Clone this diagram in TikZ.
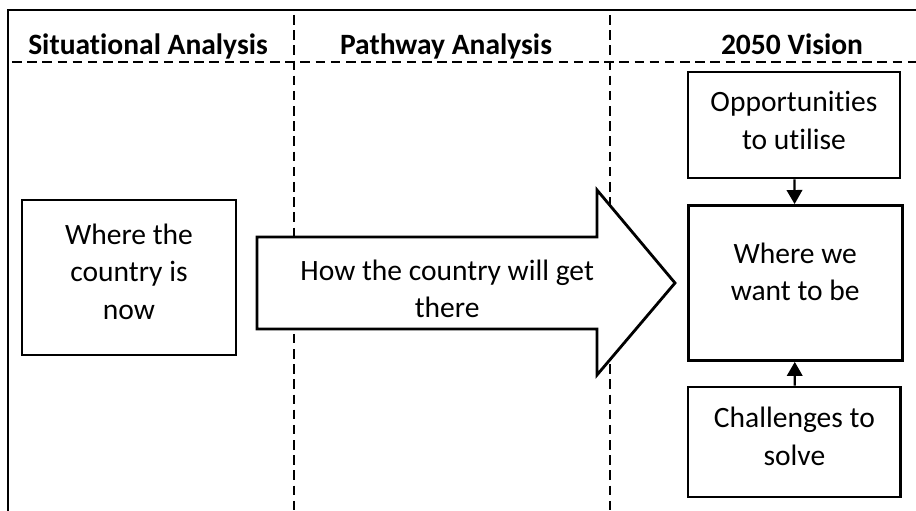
\documentclass[tikz,border=0pt]{standalone}
\usepackage{fontspec}
\setmainfont{Carlito}[Ligatures=NoCommon]
\usetikzlibrary{arrows.meta}

\begin{document}
\begin{tikzpicture}[every node/.style={font=\fontsize{10.5}{13.4}\selectfont, align=center},
    box/.style={draw, line width=1pt, inner sep=2pt},
    head/.style={font=\fontsize{10.5}{13.4}\selectfont\bfseries, anchor=base},
    lane/.style={line width=0.8pt, dash pattern=on 3.4pt off 2pt},
    link/.style={line width=0.8pt, -{Triangle[width=5.5pt,length=5pt]}}]
  \useasboundingbox (0,0) rectangle (11.45,6.3875);

  % frame and lanes
  \draw[line width=1pt] (0.1,0) -- (0.1,6.2625) -- (11.45,6.2625);
  \draw[lane] (0.15,5.6125) -- (11.45,5.6125);
  \foreach \x in {3.675,7.625} {
    \draw[lane] (\x,6.2) -- (\x,0);
  }

  \node[head] (hsit) at (1.85,5.7) {Situational Analysis};
  \node[head] (hpath) at (5.575,5.7) {Pathway Analysis};
  \node[head] (hvis) at (9.9,5.7) {2050 Vision};

  % big arrow
  \draw[line width=1pt, fill=white] (3.2125,3.425) -- (7.4625,3.425) -- (7.4625,4.0125)
    -- (8.4375,2.85) -- (7.4625,1.7) -- (7.4625,2.275) -- (3.2125,2.275) -- cycle;
  \node (path) at (5.59,2.775) {How the country will get\\there};

  % boxes
  \node[box, minimum width=2.675cm, minimum height=1.9375cm] (now) at (1.6125,2.919) {};
  \node[box, minimum width=2.675cm, minimum height=1.9375cm] (vision) at (9.94,2.85) {};
  \node[box, minimum width=2.65cm, minimum height=1.325cm] (opps) at (9.925,4.825) {};
  \node[box, minimum width=2.66cm, minimum height=1.375cm] (chal) at (9.93,0.8625) {};

  \node (nowtxt) at ([yshift=2pt]now) {Where the\\country is\\now};
  \node (visiontxt) at ([yshift=4pt]vision) {Where we\\want to be};
  \node (oppstxt) at ([yshift=1.5pt]opps) {Opportunities\\to utilise};
  \node (chaltxt) at ([yshift=2pt]chal) {Challenges to\\solve};

  \draw[link] (opps) -- (vision);
  \draw[link] (chal) -- (vision);
\end{tikzpicture}
\end{document}
